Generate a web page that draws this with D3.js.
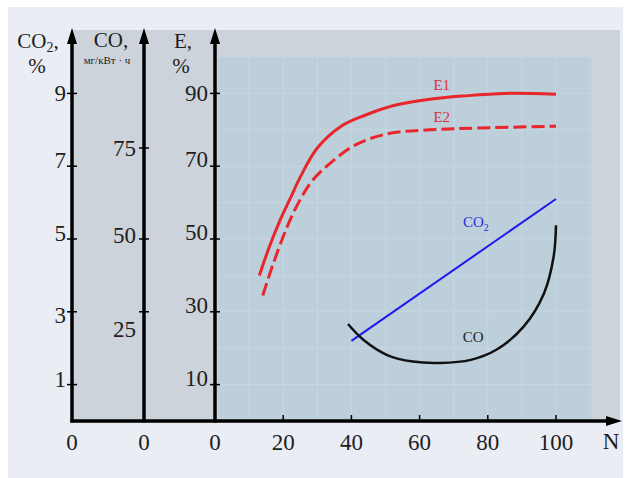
<!DOCTYPE html>
<html>
<head>
<meta charset="utf-8">
<title>E, CO2, CO</title>
<style>
  body { margin: 0; background: #fff; }
  text { font-family: "Liberation Serif", "Times New Roman", serif; fill: #1e1e1e; }
  .tick-label { font-size: 23px; }
  .grid line { stroke: #c8d7e2; stroke-width: 1px; }
  .axis-line { stroke: #000; stroke-width: 3.5px; fill: none; }
  .tick { stroke: #000; stroke-width: 1.5px; }
</style>
</head>
<body>
<div id="chart"></div>
<script src="https://cdn.jsdelivr.net/npm/d3@7"></script>
<script>
// x ticks (N)
var nTicks = [0, 20, 40, 60, 80, 100];
// left axes ticks
var co2Ticks = [1, 3, 5, 7, 9];
var coTicks = [25, 50, 75];
var eTicks = [10, 30, 50, 70, 90];

// E1, E2 curves (N, E %)
var e1N = [13, 16, 19, 22, 25, 30, 37, 44, 53, 63, 73, 85, 100];
var e1E = [40, 48, 55, 61, 67, 75, 81, 84, 86.8, 88.4, 89.3, 90, 89.8];
var e2N = [14, 17, 21, 24.5, 28.5, 34, 41.5, 51, 63, 78, 100];
var e2E = [34.5, 43, 53, 60, 66, 71, 76, 79, 80, 80.5, 81];
// CO2 line (%)
var co2N = [40, 100];
var co2V = [2.2, 6.1];
// CO curve (мг/кВт·ч)
var coN = [39, 43.5, 50.5, 58, 66, 75, 82.5, 90.5, 96.5, 99.3, 100];
var coV = [22.2, 18.6, 15.1, 13.6, 13.3, 14, 16.3, 21.6, 31.4, 43.9, 53.8];

var width = 628, height = 478;
var axisCO2 = 72, axisCO = 144, axisE = 215, axisTop = 28, arrowRight = 622;

var svg = d3.select("#chart").append("svg")
    .attr("width", width)
    .attr("height", height);

var x = d3.scaleLinear().domain([0, 100]).range([axisE, 556]);
var yE = d3.scaleLinear().domain([0, 100]).range([421, 57]);
var yCO2 = d3.scaleLinear().domain([0, 10]).range([421, 57]);
// CO axis is not uniform on the original
var yCO = d3.scaleLinear().domain([0, 25, 50, 75]).range([yE(0), yE(30), yE(50), yE(75)]);

// backgrounds
svg.append("rect").attr("x", 8).attr("y", 7).attr("width", 615).attr("height", 471).attr("fill", "#eaedf4");
svg.append("rect").attr("x", axisCO2).attr("y", 30).attr("width", 620 - axisCO2).attr("height", yE(0) - 30).attr("fill", "#cdd3db");
var plotX0 = x(1), plotX1 = x(110.5);
svg.append("rect").attr("x", plotX0).attr("y", yE(100)).attr("width", plotX1 - plotX0).attr("height", yE(0) - yE(100)).attr("fill", "#bccfdb");

// grid
var grid = svg.append("g").attr("class", "grid");
grid.selectAll(".gv").data(d3.range(10, 111, 10)).enter().append("line")
    .attr("x1", function(d) { return x(d); }).attr("x2", function(d) { return x(d); })
    .attr("y1", yE(100)).attr("y2", yE(0));
grid.selectAll(".gh").data(d3.range(10, 101, 10)).enter().append("line")
    .attr("x1", plotX0).attr("x2", plotX1)
    .attr("y1", function(d) { return yE(d); }).attr("y2", function(d) { return yE(d); });

// curves
var lineE = d3.line().curve(d3.curveCatmullRom.alpha(0.5))
    .x(function(d) { return x(d[0]); }).y(function(d) { return yE(d[1]); });
svg.append("path").datum(d3.zip(e1N, e1E)).attr("d", lineE)
    .attr("fill", "none").attr("stroke", "#e8262b").attr("stroke-width", 3);
svg.append("path").datum(d3.zip(e2N, e2E)).attr("d", lineE)
    .attr("fill", "none").attr("stroke", "#e8262b").attr("stroke-width", 3)
    .attr("stroke-dasharray", "13,5");

svg.append("path").datum(d3.zip(co2N, co2V))
    .attr("d", d3.line().x(function(d) { return x(d[0]); }).y(function(d) { return yCO2(d[1]); }))
    .attr("fill", "none").attr("stroke", "#1a1aee").attr("stroke-width", 2);

svg.append("path").datum(d3.zip(coN, coV))
    .attr("d", d3.line().curve(d3.curveCatmullRom.alpha(0.5)).x(function(d) { return x(d[0]); }).y(function(d) { return yCO(d[1]); }))
    .attr("fill", "none").attr("stroke", "#111").attr("stroke-width", 2.5);

// curve labels
svg.append("text").attr("x", x(66.5)).attr("y", yE(92.3) + 5).attr("text-anchor", "middle")
    .style("font-size", "15px").style("fill", "#d8333a").text("E1");
svg.append("text").attr("x", x(66.5)).attr("y", yE(83.5) + 5).attr("text-anchor", "middle")
    .style("font-size", "15px").style("fill", "#d8333a").text("E2");
var co2Lab = svg.append("text").attr("x", x(76.5)).attr("y", yE(54.7) + 5).attr("text-anchor", "middle")
    .style("font-size", "15px").style("fill", "#2a2ee0");
co2Lab.append("tspan").text("CO");
co2Lab.append("tspan").attr("dy", 4).style("font-size", "10px").text("2");
svg.append("text").attr("x", x(75.7)).attr("y", yE(23) + 5).attr("text-anchor", "middle")
    .style("font-size", "15px").text("CO");

// axes lines
[axisCO2, axisCO, axisE].forEach(function(ax) {
  svg.append("line").attr("class", "axis-line")
      .attr("x1", ax).attr("x2", ax).attr("y1", yE(0) + 1.5).attr("y2", axisTop + 12);
  svg.append("path").attr("d", "M" + ax + "," + axisTop + "L" + (ax - 5) + "," + (axisTop + 16) + "L" + (ax + 5) + "," + (axisTop + 16) + "Z")
      .attr("fill", "#000");
});
svg.append("line").attr("class", "axis-line")
    .attr("x1", axisCO2 - 1.5).attr("x2", arrowRight - 12).attr("y1", yE(0)).attr("y2", yE(0));
svg.append("path").attr("d", "M" + arrowRight + "," + yE(0) + "L" + (arrowRight - 16) + "," + (yE(0) - 5) + "L" + (arrowRight - 16) + "," + (yE(0) + 5) + "Z")
    .attr("fill", "#000");

// ticks on vertical axes
function vTicks(ax, vals, scale, dx, dyFn) {
  var g = svg.append("g");
  g.selectAll("line").data(vals).enter().append("line").attr("class", "tick")
      .attr("x1", ax - 5).attr("x2", ax + 5)
      .attr("y1", function(d) { return scale(d); }).attr("y2", function(d) { return scale(d); });
  g.selectAll("text").data(vals).enter().append("text").attr("class", "tick-label")
      .attr("text-anchor", "end")
      .attr("x", ax - dx)
      .attr("y", function(d) { return scale(d) + dyFn(d); })
      .text(function(d) { return d; });
}
vTicks(axisCO2, co2Ticks, yCO2, 6, function(d) { return d === 9 ? 8 : (d === 3 ? 11 : 2); });
vTicks(axisCO, coTicks, yCO, 8, function(d) { return d === 25 ? 25 : (d === 75 ? 8 : 4); });
vTicks(axisE, eTicks, yE, 7, function(d) { return d === 90 ? 8 : 1; });

// x ticks
var xg = svg.append("g");
xg.selectAll("line").data(nTicks.slice(1)).enter().append("line").attr("class", "tick")
    .attr("x1", function(d) { return x(d); }).attr("x2", function(d) { return x(d); })
    .attr("y1", yE(0) - 6).attr("y2", yE(0));
xg.selectAll("text").data(nTicks).enter().append("text").attr("class", "tick-label")
    .attr("text-anchor", "middle")
    .attr("x", function(d) { return x(d); }).attr("y", 450)
    .text(function(d) { return d; });
[axisCO2, axisCO].forEach(function(ax) {
  svg.append("text").attr("class", "tick-label").attr("text-anchor", "middle")
      .attr("x", ax).attr("y", 450).text("0");
});
svg.append("text").attr("class", "tick-label").attr("text-anchor", "middle")
    .attr("x", 611).attr("y", 449).text("N");

// axis titles
var t1 = svg.append("text").attr("x", 38).attr("y", 48).attr("text-anchor", "middle").style("font-size", "21px");
t1.append("tspan").text("CO");
t1.append("tspan").attr("dy", 4).style("font-size", "14px").text("2");
t1.append("tspan").attr("dy", -4).text(",");
svg.append("text").attr("x", 37).attr("y", 73).attr("text-anchor", "middle").style("font-size", "21px").text("%");

svg.append("text").attr("x", 111).attr("y", 47).attr("text-anchor", "middle").style("font-size", "21px").text("CO,");
svg.append("text").attr("x", 107).attr("y", 64).attr("text-anchor", "middle").style("font-size", "11px").text("мг/кВт · ч");

svg.append("text").attr("x", 183).attr("y", 48).attr("text-anchor", "middle").style("font-size", "21px").text("E,");
svg.append("text").attr("x", 181).attr("y", 73).attr("text-anchor", "middle").style("font-size", "21px").text("%");
</script>
</body>
</html>
